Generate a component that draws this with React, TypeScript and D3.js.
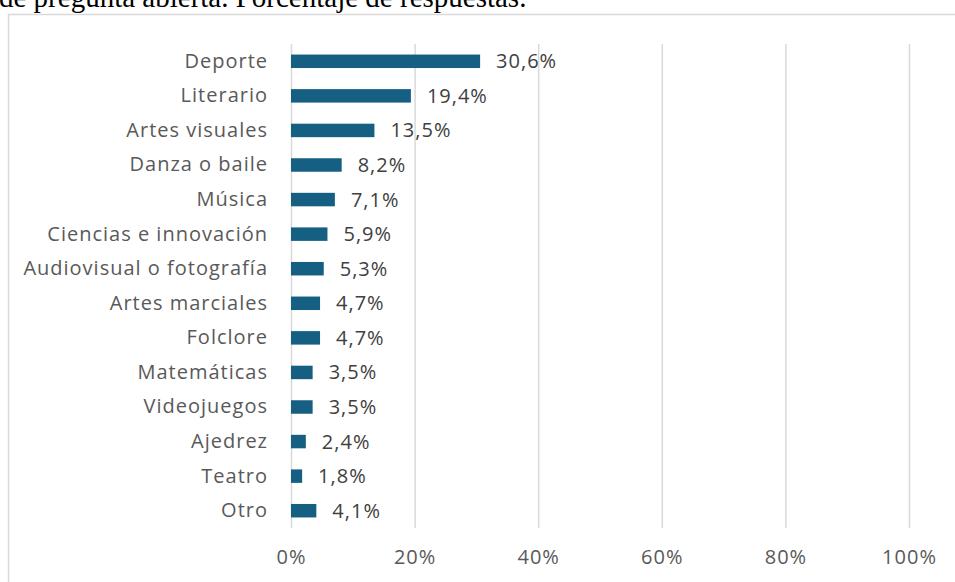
import React from "react";
import * as d3 from "d3";

const categories = [
    "Deporte",
    "Literario",
    "Artes visuales",
    "Danza o baile",
    "Música",
    "Ciencias e innovación",
    "Audiovisual o fotografía",
    "Artes marciales",
    "Folclore",
    "Matemáticas",
    "Videojuegos",
    "Ajedrez",
    "Teatro",
    "Otro",
];
const values = [30.6, 19.4, 13.5, 8.2, 7.1, 5.9, 5.3, 4.7, 4.7, 3.5, 3.5, 2.4, 1.8, 4.1];
const xTicks = [0, 20, 40, 60, 80, 100];
const caption = "de pregunta abierta. Porcentaje de respuestas.";

const width = 955;
const height = 582;
const font = "'Open Sans', 'Liberation Sans', sans-serif";
const fontSize = 20;
const spacing = "1px";

const App = () => {
    const svgRef = React.useRef(null);

    React.useEffect(() => {
        const svg = d3.select(svgRef.current);
        svg.selectAll("*").remove();

        // caption text cut at the top, like the source page
        svg.append("text")
            .attr("x", -1)
            .attr("y", 7)
            .attr("font-family", "'Liberation Serif', 'Times New Roman', serif")
            .attr("font-size", 29)
            .attr("fill", "#000")
            .text(caption);

        // chart area frame
        svg.append("rect")
            .attr("x", 8.5)
            .attr("y", 14.5)
            .attr("width", 1000)
            .attr("height", 1000)
            .attr("fill", "#fff")
            .attr("stroke", "#d9d9d9")
            .attr("stroke-width", 1.5);

        const xScale = d3.scaleLinear().domain([0, 100]).range([291, 909]);
        const yScale = d3.scaleBand().domain(categories).range([44, 528]).paddingInner(0.61).paddingOuter(0.305);

        // vertical grid lines
        const xAxis = d3.axisBottom(xScale)
            .tickValues(xTicks)
            .tickSize(-(528 - 44))
            .tickPadding(22)
            .tickFormat((d) => `${d}%`);
        const xAxisGroup = svg.append("g").attr("transform", "translate(0, 528)").call(xAxis);
        xAxisGroup.select(".domain").remove();
        xAxisGroup.selectAll("line").attr("stroke", "#d9d9d9").attr("stroke-width", 1.5);
        xAxisGroup.selectAll("text")
            .attr("fill", "#595959")
            .attr("font-family", font)
            .attr("font-size", fontSize)
            .attr("letter-spacing", spacing);

        // category labels
        const yAxis = d3.axisLeft(yScale).tickSize(0).tickPadding(23);
        const yAxisGroup = svg.append("g").attr("transform", "translate(291, 0)").call(yAxis);
        yAxisGroup.select(".domain").remove();
        yAxisGroup.selectAll("text")
            .attr("fill", "#595959")
            .attr("font-family", font)
            .attr("font-size", fontSize)
            .attr("letter-spacing", spacing);

        // bars
        svg.selectAll(".bar")
            .data(values)
            .enter()
            .append("rect")
            .attr("x", xScale(0))
            .attr("y", (d, i) => yScale(categories[i]))
            .attr("width", (d) => xScale(d) - xScale(0))
            .attr("height", yScale.bandwidth())
            .attr("fill", "#156082");

        // value labels
        svg.selectAll(".val")
            .data(values)
            .enter()
            .append("text")
            .attr("x", (d) => xScale(d) + 16)
            .attr("y", (d, i) => yScale(categories[i]) + yScale.bandwidth() / 2)
            .attr("dy", "0.35em")
            .attr("fill", "#404040")
            .attr("font-family", font)
            .attr("font-size", fontSize)
            .attr("letter-spacing", spacing)
            .text((d) => `${d.toFixed(1).replace(".", ",")}%`);
    }, []);

    return (
        <svg
            ref={svgRef}
            width={width}
            height={height}
            style={{ position: "absolute", left: 0, top: 0, display: "block" }}
        />
    );
};

export default App;
